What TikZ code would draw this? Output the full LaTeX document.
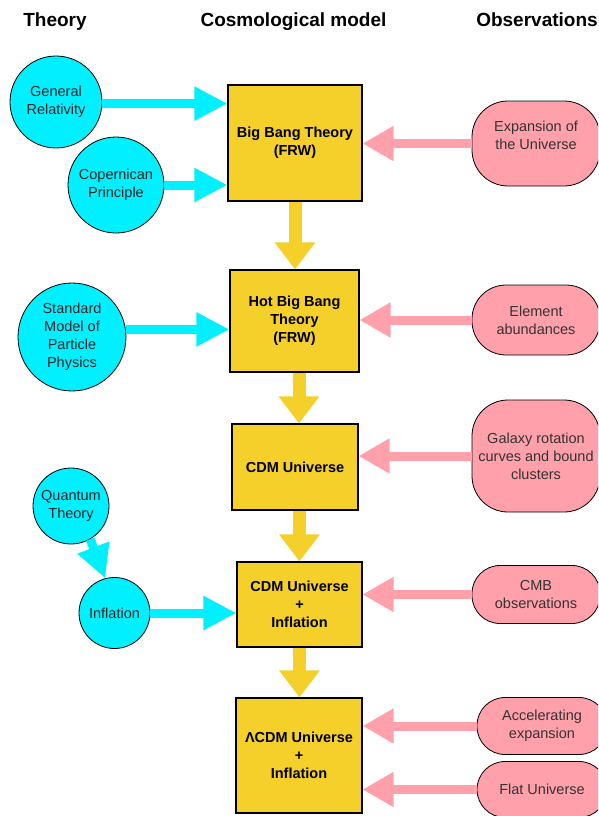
\documentclass[tikz,border=0pt]{standalone}
\usepackage{fontspec}
\setmainfont{Liberation Sans}
\usetikzlibrary{arrows.meta}
\definecolor{cy}{RGB}{0,240,255}
\definecolor{boxyellow}{RGB}{245,208,42}
\definecolor{pk}{RGB}{255,160,170}
\begin{document}
\begin{tikzpicture}[x=1pt,y=-1pt,
  header/.style={font=\fontsize{19}{22}\selectfont\bfseries, anchor=base, inner sep=0},
  modelbox/.style={draw=black, line width=1.1pt, fill=boxyellow, rectangle, inner sep=0, align=center, font=\fontsize{14.5}{18}\selectfont\bfseries},
  theorycirc/.style={draw=black, line width=0.8pt, fill=cy, circle, inner sep=0, align=center, font=\fontsize{14.5}{18}\selectfont, text=black!85},
  obspill/.style={draw=black, line width=0.8pt, fill=pk, rectangle, rounded corners=28pt, inner sep=0, align=center, font=\fontsize{14.5}{18}\selectfont, text=black!80},
  pilltext/.style={inner sep=0, align=center, font=\fontsize{14.5}{18}\selectfont, text=black!80},
  cyanarrow/.style={draw=cy, line width=9pt, -{Triangle[length=33pt,width=32pt]}},
  pinkarrow/.style={draw=pk, line width=9pt, -{Triangle[length=31pt,width=33pt]}},
  yelarrow/.style={draw=boxyellow, line width=13pt, -{Triangle[length=27pt,width=39pt]}}
]
\useasboundingbox (0,0) rectangle (598,816);
\clip (0,0) rectangle (598,816);

% headers
\node[header] (hth) at (55,27) {Theory};
\node[header] (hcm) at (293.5,27) {Cosmological model};
\node[header] (hob) at (537,27) {Observations};

% model boxes
\node[modelbox, minimum width=134pt, minimum height=116pt] (bb) at (295,143) {Big Bang Theory\\(FRW)};
\node[modelbox, minimum width=129pt, minimum height=102pt] (hbb) at (294.5,321) {Hot Big Bang\\Theory\\(FRW)};
\node[modelbox, minimum width=126pt, minimum height=86pt] (cdm) at (295,467) {CDM Universe};
\node[modelbox, minimum width=125pt, minimum height=85pt] (cdmi) at (299.5,604.5) {CDM Universe\\+\\Inflation};
\node[modelbox, minimum width=126pt, minimum height=115pt] (lcdm) at (299,755.5) {ΛCDM Universe\\+\\Inflation};

% theory circles
\node[theorycirc, minimum size=92pt] (gr) at (56,102) {General\\Relativity};
\node[theorycirc, minimum size=96pt] (cp) at (116,185) {Copernican\\Principle};
\node[theorycirc, minimum size=108pt] (sm) at (72,337) {Standard\\Model of\\Particle\\Physics};
\node[theorycirc, minimum size=76pt] (qt) at (71,506) {Quantum\\Theory};
\node[theorycirc, minimum size=71pt] (inf) at (114.5,613) {Inflation};

% observation pills
\node[obspill, rounded corners=36pt, minimum width=128pt, minimum height=85pt] (exp) at (536,143.5) {};
\node[pilltext] (exptext) at (536,135) {Expansion of\\the Universe};
\node[obspill, rounded corners=34pt, minimum width=128pt, minimum height=70pt] (elem) at (536,320) {Element\\abundances};
\node[obspill, rounded corners=36pt, minimum width=128pt, minimum height=112pt] (gal) at (536,456) {Galaxy rotation\\curves and bound\\clusters};
\node[obspill, minimum width=128pt, minimum height=58pt] (cmb) at (536,594.5) {CMB\\observations};
\node[obspill, minimum width=130pt, minimum height=57pt] (acc) at (542,726) {Accelerating\\expansion};
\node[obspill, minimum width=130pt, minimum height=56pt] (flat) at (542,789.5) {Flat Universe};

% cyan arrows
\draw[cyanarrow] (gr.-2) -- (gr.-2 -| bb.west);
\draw[cyanarrow] (cp.east) -- (cp.east -| bb.west);
\draw[cyanarrow] (sm.8) -- (sm.8 -| hbb.west);
\draw[cyanarrow] (qt.-60) -- (inf.105);
\draw[cyanarrow] (inf.east) -- (inf.east -| cdmi.west);

% pink arrows
\draw[pinkarrow] (exp.west) -- (exp.west -| bb.east);
\draw[pinkarrow] (elem.west) -- (elem.west -| hbb.east);
\draw[pinkarrow] (gal.west) -- (gal.west -| cdm.east);
\draw[pinkarrow] (cmb.west) -- (cmb.west -| cdmi.east);
\draw[pinkarrow] (acc.west) -- (acc.west -| lcdm.east);
\draw[pinkarrow] (flat.west) -- (flat.west -| lcdm.east);

% yellow arrows
\draw[yelarrow] (bb.south) -- (bb.south |- hbb.north);
\draw[yelarrow] ([xshift=4.5pt]hbb.south) -- ([xshift=4.5pt]hbb.south |- cdm.north);
\draw[yelarrow] (cdmi.north |- cdm.south) -- (cdmi.north);
\draw[yelarrow] (cdmi.south) -- (cdmi.south |- lcdm.north);
\end{tikzpicture}
\end{document}
